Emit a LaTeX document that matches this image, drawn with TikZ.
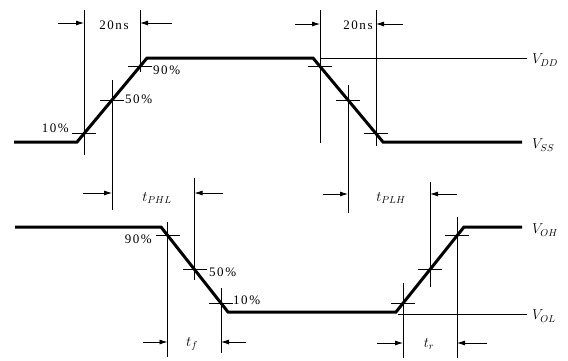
\documentclass[tikz,border=0pt]{standalone}
\usepackage{fontspec}
\setmainfont{Liberation Serif}
\newfontfamily\lblfont[LetterSpace=12]{Liberation Serif}
\usetikzlibrary{arrows.meta,calc}
\newcommand\xhair[5]{%
  \coordinate (#1) at (#2,#3);
  \coordinate (#1-t) at (#2,#4);
  \coordinate (#1-b) at (#2,#5);
  \coordinate (#1-l) at ($(#1)+(-12,0)$);
  \coordinate (#1-r) at ($(#1)+(12,0)$);
  \draw[guide] (#1-t) -- (#1-b);
  \draw[tick] (#1-l) -- (#1-r);
}
\begin{document}
\begin{tikzpicture}[x=1pt,y=-1pt,
  wave/.style={line width=3pt, line join=miter},
  guide/.style={line width=0.6pt},
  tick/.style={line width=0.8pt},
  refline/.style={line width=0.5pt},
  dim/.style={line width=0.8pt, -{Latex[length=8pt,width=5pt]}},
  lbl/.style={font=\fontsize{13}{14}\selectfont\lblfont, inner sep=1pt},
  vlbl/.style={font=\fontsize{14}{15}\selectfont, inner sep=1pt, anchor=west}
]
\useasboundingbox (0,0) rectangle (568,360);

% ---------- top waveform (input) ----------
\coordinate (a0) at (14,142);
\coordinate (a1) at (77,142);
\coordinate (a2) at (147,58);
\coordinate (a3) at (313,58);
\coordinate (a4) at (383,142);
\coordinate (a5) at (522,142);
\draw[wave] (a0) -- (a1) -- (a2) -- (a3) -- (a4) -- (a5);

\xhair{r10}{84}{133.6}{10}{155}
\xhair{r50}{112}{100}{80}{210}
\xhair{r90}{140}{66.4}{10}{72}
\xhair{f90}{320}{66.4}{10}{143}
\xhair{f50}{348}{100}{85}{213}
\xhair{f10}{376}{133.6}{10}{146}

\coordinate (vddA) at (320,58);
\coordinate (vddB) at (527,58);
\draw[refline] (vddA) -- (vddB);

\node[vlbl] (vdd) at (531,60) {$V_{DD}$};
\node[vlbl] (vss) at (531,145) {$V_{SS}$};

\node[lbl] (p10a) at (70,128) [anchor=east] {10\%};
\node[lbl] (p50a) at (124,99) [anchor=west] {50\%};
\node[lbl] (p90a) at (152,70) [anchor=west] {90\%};

% 20ns dimensions
\node[lbl] (ns1) at (114,25) {20ns};
\coordinate (d1) at (58,23);
\coordinate (d2) at (172,23);
\draw[dim] (d1) -- (d1 -| r10);
\draw[dim] (d2) -- (d2 -| r90);
\node[lbl] (ns2) at (358,25) {20ns};
\coordinate (d3) at (295,24);
\coordinate (d4) at (403,24);
\draw[dim] (d3) -- (d3 -| f90);
\draw[dim] (d4) -- (d4 -| f10);

% ---------- bottom waveform (output) ----------
\coordinate (b0) at (15,227);
\coordinate (b1) at (161,227);
\coordinate (b2) at (228,312);
\coordinate (b3) at (396,312);
\coordinate (b4) at (464,227);
\coordinate (b5) at (522,227);
\draw[wave] (b0) -- (b1) -- (b2) -- (b3) -- (b4) -- (b5);

\xhair{g90}{167.5}{235.5}{222}{357}
\xhair{g50}{194.5}{269.5}{178}{280}
\xhair{g10}{221}{303.5}{288}{353}
\xhair{h10}{403}{303.5}{283}{358}
\xhair{h50}{430}{269.5}{182}{287}
\xhair{h90}{457}{235.5}{217}{358}

\coordinate (volA) at (398,314);
\coordinate (volB) at (527,314);
\draw[refline] (volA) -- (volB);

\node[vlbl] (voh) at (531,230) {$V_{OH}$};
\node[vlbl] (vol) at (531,316) {$V_{OL}$};

\node[lbl] (p90b) at (153,239) [anchor=east] {90\%};
\node[lbl] (p50b) at (208,272) [anchor=west] {50\%};
\node[lbl] (p10b) at (232,300) [anchor=west] {10\%};

% tPHL
\node[vlbl, anchor=center] (tphl) at (157,198) {$t_{PHL}$};
\coordinate (e1) at (83,193);
\coordinate (e2) at (223,193);
\draw[dim] (e1) -- (e1 -| r50);
\draw[dim] (e2) -- (e2 -| g50);
% tPLH
\node[vlbl, anchor=center] (tplh) at (391,198) {$t_{PLH}$};
\coordinate (e3) at (323,194);
\coordinate (e4) at (457,194);
\draw[dim] (e3) -- (e3 -| f50);
\draw[dim] (e4) -- (e4 -| h50);
% tf
\node[vlbl, anchor=center] (tf) at (192,344) {$t_f$};
\coordinate (e5) at (143,342);
\coordinate (e6) at (246,342);
\draw[dim] (e5) -- (e5 -| g90);
\draw[dim] (e6) -- (e6 -| g10);
% tr
\node[vlbl, anchor=center] (tr) at (429,344) {$t_r$};
\coordinate (e7) at (377,343);
\coordinate (e8) at (487,343);
\draw[dim] (e7) -- (e7 -| h10);
\draw[dim] (e8) -- (e8 -| h90);
\end{tikzpicture}
\end{document}
